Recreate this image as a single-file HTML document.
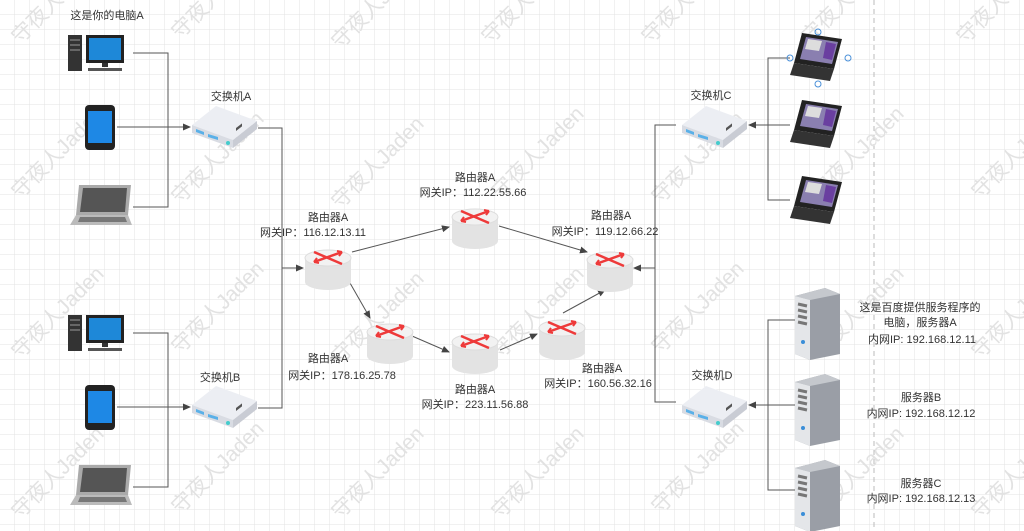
<!DOCTYPE html>
<html><head><meta charset="utf-8"><style>
html,body{margin:0;padding:0;background:#fff;}
svg{display:block;font-family:"Liberation Sans","Noto Sans CJK SC",sans-serif;}
</style></head><body>
<svg width="1024" height="531" viewBox="0 0 1024 531" xmlns="http://www.w3.org/2000/svg">
<defs>
<pattern id="g" width="15" height="15" patternUnits="userSpaceOnUse"><path d="M15 0V15H0" fill="none" stroke="#e3e3e3" stroke-width="1"/></pattern>
<marker id="ar" markerWidth="8" markerHeight="8" refX="7" refY="4" orient="auto" markerUnits="userSpaceOnUse"><path d="M0,0.5 L8,4 L0,7.5 Z" fill="#444"/></marker>
<g id="desk">
<rect x="0" y="0" width="14" height="36" fill="#333"/>
<rect x="2" y="4" width="10" height="2" fill="#666"/><rect x="2" y="9" width="10" height="2" fill="#666"/><rect x="2" y="14" width="10" height="2" fill="#666"/>
<rect x="18" y="0" width="38" height="28" fill="#222"/>
<rect x="21" y="3" width="32" height="22" fill="#1e88d8"/>
<rect x="34" y="28" width="6" height="4" fill="#333"/>
<rect x="20" y="33" width="34" height="3" fill="#555"/>
</g>
<g id="tab">
<rect x="0" y="0" width="30" height="45" rx="4" fill="#222"/>
<rect x="3" y="6" width="24" height="32" fill="#1e88e5"/>
</g>
<g id="lap">
<path d="M9 0 L61 0 L58 30 L6 30 Z" fill="#aaa"/>
<path d="M13 3 L57 3 L55 27 L10 27 Z" fill="#555"/>
<path d="M6 30 L58 30 L62 40 L0 40 Z" fill="#bbb"/>
<path d="M10 32 L55 32 L57 37 L8 37 Z" fill="#777"/>
</g>
<g id="lapc">
<path d="M12 0 L52 6 L44 36 L4 30 Z" fill="#222"/>
<path d="M16 4 L48 9 L42 31 L10 26 Z" fill="#8a7fb0"/>
<path d="M18 6 L32 8 L29 18 L15 16Z" fill="#ddd"/>
<path d="M36 9 L46 11 L42 27 L33 25Z" fill="#6a3fa0"/>
<path d="M4 30 L44 36 L40 48 L0 42 Z" fill="#333"/>
</g>
<g id="sw">
<path d="M-30 0 L-6 -19 L35 -4 L11 15 Z" fill="#eceef3"/>
<path d="M-30 0 L11 15 L11 23 L-30 8 Z" fill="#d9dce3"/>
<path d="M11 15 L35 -4 L35 4 L11 23 Z" fill="#c9ccd4"/>
<path d="M-26 4 L-18 7 L-18 10 L-26 7Z" fill="#5ab0e8"/>
<path d="M-14 9 L-4 12 L-4 15 L-14 12Z" fill="#5ab0e8"/>
<circle cx="6" cy="18" r="2" fill="#4cc"/>
<rect x="14" y="14" width="6" height="3" fill="#555" transform="skewY(-38)"/>
</g>
<g id="rt">
<path d="M-23 -8 L-23 16 A23 8 0 0 0 23 16 L23 -8 Z" fill="#e3e3e3"/>
<ellipse cx="0" cy="-8" rx="23" ry="8" fill="#f2f2f2" stroke="#ddd"/>
<path d="M-14 -4 L14 -14 M-14 -14 L14 -2" stroke="#ee3a3a" stroke-width="2.5" fill="none"/>
<path d="M14 -14 l-5 -1 M14 -14 l-3 4 M-14 -4 l5 1 M-14 -4 l3 -4" stroke="#ee3a3a" stroke-width="2"/>
</g>
<g id="srv">
<path d="M0 8 L30 0 L45 6 L45 66 L15 72 L0 66Z" fill="#9a9ea6"/>
<path d="M0 8 L30 0 L45 6 L15 12Z" fill="#c5c8cd"/>
<path d="M0 8 L15 12 L15 72 L0 66Z" fill="#e4e6e9"/>
<path d="M3 16 L12 18 M3 22 L12 24 M3 28 L12 30 M3 34 L12 36" stroke="#777" stroke-width="3"/>
<circle cx="8" cy="54" r="2" fill="#3a8ed8"/>
</g>
<g id="wm" fill="#e2e2e2" font-size="21"><text transform="rotate(-45)">守夜人Jaden</text></g>
</defs>
<rect width="1024" height="531" fill="url(#g)"/>
<line x1="874" y1="0" x2="874" y2="531" stroke="#bbb" stroke-dasharray="5,4"/>
<g>
<use href="#wm" x="20" y="45"/><use href="#wm" x="180" y="40"/><use href="#wm" x="340" y="50"/><use href="#wm" x="490" y="45"/><use href="#wm" x="650" y="45"/><use href="#wm" x="810" y="45"/><use href="#wm" x="965" y="45"/>
<use href="#wm" x="20" y="200"/><use href="#wm" x="180" y="205"/><use href="#wm" x="340" y="210"/><use href="#wm" x="500" y="200"/><use href="#wm" x="660" y="205"/><use href="#wm" x="820" y="200"/><use href="#wm" x="980" y="200"/>
<use href="#wm" x="20" y="360"/><use href="#wm" x="180" y="355"/><use href="#wm" x="340" y="365"/><use href="#wm" x="500" y="360"/><use href="#wm" x="660" y="355"/><use href="#wm" x="820" y="360"/><use href="#wm" x="980" y="360"/>
<use href="#wm" x="20" y="520"/><use href="#wm" x="180" y="515"/><use href="#wm" x="340" y="520"/><use href="#wm" x="500" y="520"/><use href="#wm" x="660" y="515"/><use href="#wm" x="820" y="520"/><use href="#wm" x="980" y="520"/>
</g>
<g stroke="#555" stroke-width="1" fill="none">
<path d="M133 53 H168 V207 H133"/>
<path d="M117 127 H190" marker-end="url(#ar)"/>
<path d="M133 333 H168 V487 H133"/>
<path d="M117 407 H190" marker-end="url(#ar)"/>
<path d="M258 128 H282 V268"/>
<path d="M258 408 H282 V268 H303" marker-end="url(#ar)"/>
<path d="M352 252 L449 227" marker-end="url(#ar)"/>
<path d="M499 226 L587 252" marker-end="url(#ar)"/>
<path d="M350 283 L370 318" marker-end="url(#ar)"/>
<path d="M412 336 L449 352" marker-end="url(#ar)"/>
<path d="M500 350 L537 334" marker-end="url(#ar)"/>
<path d="M563 313 L605 290" marker-end="url(#ar)"/>
<path d="M676 125 H655 V402 H676"/>
<path d="M655 268 H634" marker-end="url(#ar)"/>
<path d="M790 58 H768 V200 H790"/>
<path d="M790 125 H749" marker-end="url(#ar)"/>
<path d="M795 320 H768 V490 H795"/>
<path d="M795 405 H749" marker-end="url(#ar)"/>
</g>
<use href="#desk" x="68" y="35"/><use href="#tab" x="85" y="105"/><use href="#lap" x="70" y="185"/>
<use href="#desk" x="68" y="315"/><use href="#tab" x="85" y="385"/><use href="#lap" x="70" y="465"/>
<use href="#sw" x="222" y="125"/><use href="#sw" x="222" y="405"/>
<use href="#sw" x="712" y="125"/><use href="#sw" x="712" y="405"/>
<use href="#rt" x="328" y="266"/><use href="#rt" x="475" y="225"/><use href="#rt" x="610" y="268"/>
<use href="#rt" x="390" y="340"/><use href="#rt" x="475" y="350"/><use href="#rt" x="562" y="336"/>
<use href="#lapc" x="790" y="33"/><use href="#lapc" x="790" y="100"/><use href="#lapc" x="790" y="176"/>
<g fill="none" stroke="#4a90d9"><circle cx="818" cy="32" r="3"/><circle cx="790" cy="58" r="3"/><circle cx="848" cy="58" r="3"/><circle cx="818" cy="84" r="3"/></g>
<use href="#srv" x="795" y="288"/><use href="#srv" x="795" y="374"/><use href="#srv" x="795" y="460"/>
<g font-size="11" fill="#333" text-anchor="middle">
<text x="107" y="19">这是你的电脑A</text>
<text x="231" y="100">交换机A</text>
<text x="220" y="381">交换机B</text>
<text x="711" y="99">交换机C</text>
<text x="712" y="379">交换机D</text>
<text x="328" y="221">路由器A</text><text x="313" y="236">网关IP：116.12.13.11</text>
<text x="475" y="181">路由器A</text><text x="473" y="196">网关IP：112.22.55.66</text>
<text x="611" y="219">路由器A</text><text x="605" y="235">网关IP：119.12.66.22</text>
<text x="328" y="362">路由器A</text><text x="342" y="379">网关IP：178.16.25.78</text>
<text x="475" y="393">路由器A</text><text x="475" y="408">网关IP：223.11.56.88</text>
<text x="602" y="372">路由器A</text><text x="598" y="387">网关IP：160.56.32.16</text>
<text x="920" y="311">这是百度提供服务程序的</text><text x="920" y="326">电脑，服务器A</text><text x="922" y="343">内网IP: 192.168.12.11</text>
<text x="921" y="401">服务器B</text><text x="921" y="417">内网IP: 192.168.12.12</text>
<text x="921" y="487">服务器C</text><text x="921" y="502">内网IP: 192.168.12.13</text>
</g>
</svg>
</body></html>
